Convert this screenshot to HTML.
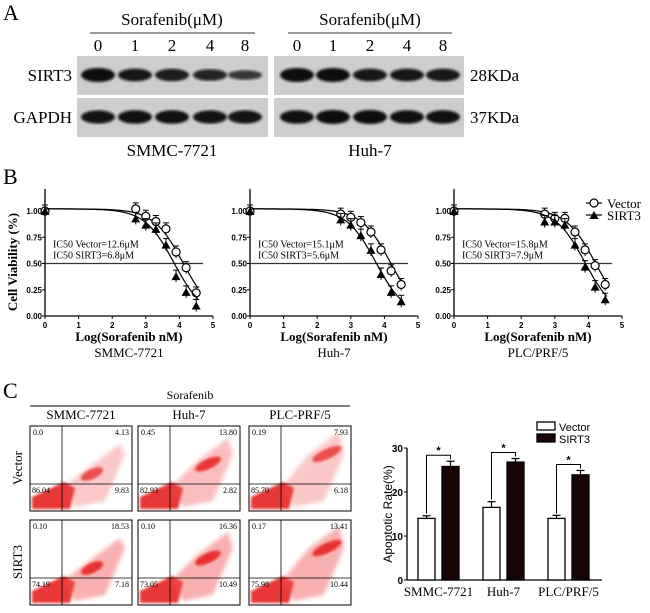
<!DOCTYPE html>
<html><head><meta charset="utf-8"><style>
html,body{margin:0;padding:0;background:#fff;width:650px;height:613px;overflow:hidden}
svg{display:block}
.serif{font-family:"Liberation Serif",serif}
.sansb{font-family:"Liberation Sans",sans-serif;font-weight:bold}
</style></head><body>
<svg id="fig" width="650" height="613" viewBox="0 0 650 613" xmlns="http://www.w3.org/2000/svg">
<defs>
<filter id="blur1"><feGaussianBlur stdDeviation="1.4"/></filter>
<filter id="blur2"><feGaussianBlur stdDeviation="2.2"/></filter>
</defs>
<!-- Panel A -->
<g id="panelA" font-family="Liberation Serif, serif">
<text x="3" y="20" font-size="22" font-family="Liberation Serif, serif">A</text>
<text x="172" y="25" font-size="17" text-anchor="middle" font-family="Liberation Serif, serif">Sorafenib(μM)</text>
<line x1="90" y1="33" x2="255" y2="33" stroke="#333" stroke-width="1"/>
<text x="370" y="25" font-size="17" text-anchor="middle" font-family="Liberation Serif, serif">Sorafenib(μM)</text>
<line x1="288" y1="33" x2="452" y2="33" stroke="#333" stroke-width="1"/>
<text x="72" y="81" font-size="17" text-anchor="end" font-family="Liberation Serif, serif">SIRT3</text>
<text x="72" y="123" font-size="17" text-anchor="end" font-family="Liberation Serif, serif">GAPDH</text>
<text x="470" y="81" font-size="17" font-family="Liberation Serif, serif">28KDa</text>
<text x="470" y="123" font-size="17" font-family="Liberation Serif, serif">37KDa</text>
<text x="172" y="156" font-size="17" text-anchor="middle" font-family="Liberation Serif, serif">SMMC-7721</text>
<text x="370" y="156" font-size="17" text-anchor="middle" font-family="Liberation Serif, serif">Huh-7</text>
<g id="blots"></g>
</g>
<!-- Panel B -->
<g id="panelB">
<text x="3" y="184" font-size="22" font-family="Liberation Serif, serif">B</text>
<text transform="translate(17,262) rotate(-90)" font-size="13" text-anchor="middle" font-family="Liberation Serif, serif" font-weight="bold">Cell Viability (%)</text>
<g id="curves"></g>
<g>
<line x1="586" y1="203" x2="602" y2="203" stroke="#000" stroke-width="1.2"/>
<circle cx="594" cy="203" r="4" fill="#fff" stroke="#000" stroke-width="1.2"/>
<text x="607" y="208" font-size="13" font-family="Liberation Serif, serif">Vector</text>
<line x1="586" y1="215" x2="602" y2="215" stroke="#000" stroke-width="1.2"/>
<polygon points="594,211 598.5,219 589.5,219" fill="#000"/>
<text x="607" y="220" font-size="13" font-family="Liberation Serif, serif">SIRT3</text>
</g>
</g>
<!-- Panel C -->
<g id="panelC">
<text x="3" y="398" font-size="22" font-family="Liberation Serif, serif">C</text>
<text x="190" y="399" font-size="12" text-anchor="middle" font-family="Liberation Serif, serif">Sorafenib</text>
<line x1="30" y1="406" x2="350" y2="406" stroke="#000" stroke-width="1"/>
<text transform="translate(22,468) rotate(-90)" font-size="13" text-anchor="middle" font-family="Liberation Serif, serif">Vector</text>
<text transform="translate(22,562) rotate(-90)" font-size="13" text-anchor="middle" font-family="Liberation Serif, serif">SIRT3</text>
<g id="flow"></g>
<text transform="translate(392,514) rotate(-90)" font-size="12" text-anchor="middle" font-family="Liberation Sans, sans-serif">Apoptotic Rate(%)</text>
<g id="bars"></g>
</g>
</svg>
<script>
// ---------- Panel A data ----------
const blotDoses = ["0","1","2","4","8"];
const smmcSirt3 = [1.0, 0.85, 0.8, 0.7, 0.45];
const smmcGapdh = [0.9, 0.95, 0.95, 0.9, 0.9];
const huhSirt3 = [1.0, 1.0, 0.85, 0.85, 0.85];
const huhGapdh = [0.95, 1.0, 1.0, 0.95, 0.95];
// ---------- Panel B data ----------
const logDose = [0, 2.7, 3.0, 3.3, 3.6, 3.9, 4.2, 4.5];
const cellNames = ["SMMC-7721", "Huh-7", "PLC/PRF/5"];
const vectorVals = [
  [1.0, 1.02, 0.95, 0.90, 0.83, 0.61, 0.46, 0.22],
  [1.0, 0.97, 0.94, 0.89, 0.80, 0.63, 0.43, 0.30],
  [1.0, 0.97, 0.93, 0.93, 0.80, 0.63, 0.48, 0.30]
];
const sirt3Vals = [
  [1.0, 0.93, 0.87, 0.83, 0.68, 0.38, 0.23, 0.10],
  [1.0, 0.92, 0.87, 0.77, 0.63, 0.40, 0.23, 0.14],
  [1.0, 0.90, 0.90, 0.87, 0.68, 0.47, 0.28, 0.16]
];
const ic50Vector = [12.6, 15.1, 15.8];
const ic50Sirt3 = [6.8, 5.6, 7.9];
const yTicksB = ["0.00","0.25","0.50","0.75","1.00"];
const xTicksB = [0,1,2,3,4,5];
// ---------- Panel C data ----------
const flowCells = ["SMMC-7721","Huh-7","PLC-PRF/5"];
const flowVectorQ = [["0.0","4.13","86.04","9.83"],["0.45","13.80","82.93","2.82"],["0.19","7.93","85.70","6.18"]];
const flowSirt3Q = [["0.10","18.53","74.19","7.18"],["0.10","16.36","73.05","10.49"],["0.17","13.41","75.98","10.44"]];
const barCategories = ["SMMC-7721","Huh-7","PLC/PRF/5"];
const barVector = [14.0, 16.5, 14.0];
const barSirt3 = [25.8, 26.8, 23.9];
const errVector = [0.6, 1.3, 0.7];
const errSirt3 = [1.2, 0.8, 1.0];
const yTicksC = [0,10,20,30];

const NS="http://www.w3.org/2000/svg";
const SERIF="Liberation Serif, serif";
function mk(tag, attrs, parent){const e=document.createElementNS(NS,tag);for(const k in attrs)e.setAttribute(k,attrs[k]);parent.appendChild(e);return e;}

// ---------- Panel A ----------
(function(){
  const g=document.getElementById('blots');
  const sets=[{x:77,w:191,lanes:[98,135,172,210,245],s:smmcSirt3,gp:smmcGapdh,n:'smmc'},{x:274,w:190,lanes:[297,333,370,407,443],s:huhSirt3,gp:huhGapdh,n:'huh7'}];
  sets.forEach(st=>{
    st.lanes.forEach((lx,i)=>{
      const t=mk('text',{x:lx,y:51,'font-size':17,'text-anchor':'middle','font-family':SERIF},document.getElementById('panelA'));
      t.textContent=blotDoses[i];
      
      
    });
    [[56,95,st.s,75],[98,137,st.gp,117]].forEach((r,ri)=>{
      const box=mk('rect',{x:st.x,y:r[0],width:st.w,height:r[1]-r[0],fill:'#cdcdcd'},g);
      
      
      st.lanes.forEach((lx,i)=>{
        const v=r[2][i];
        const b=mk('ellipse',{cx:lx,cy:r[3],rx:17,ry:3+4*v,fill:'#111',opacity:0.6+0.4*v,filter:'url(#blur1)'},g);
        
        
      });
    });
  });
})();

// ---------- Panel B ----------
(function(){
  const g=document.getElementById('curves');
  const x0s=[45,250,454], unit=33.6, yb=316, yh=105;
  x0s.forEach((x0,c)=>{
    const X=v=>x0+v*unit, Y=v=>yb-v*yh;
    const cg=mk('g',{},g);
    
    
    mk('line',{x1:x0,y1:189,x2:x0,y2:yb,stroke:'#000','stroke-width':1.3},cg);
    mk('line',{x1:x0,y1:yb,x2:X(5),y2:yb,stroke:'#000','stroke-width':1.3},cg);
    yTicksB.forEach(t=>{const v=+t;
      mk('line',{x1:x0-3,y1:Y(v),x2:x0,y2:Y(v),stroke:'#000'},cg);
      const tt=mk('text',{x:x0-3,y:Y(v)+3,'font-size':8,'text-anchor':'end','class':'sansb'},cg);tt.textContent=t;
      
      
    });
    xTicksB.forEach(v=>{
      mk('line',{x1:X(v),y1:yb,x2:X(v),y2:yb+3,stroke:'#000'},cg);
      const tt=mk('text',{x:X(v),y:yb+12,'font-size':8,'text-anchor':'middle','class':'sansb'},cg);tt.textContent=v;
      
      
    });
    mk('line',{x1:x0,y1:Y(0.5),x2:X(4.7),y2:Y(0.5),stroke:'#333','stroke-width':1.3},cg);
    const t1=mk('text',{x:x0+8,y:Y(0.5)-16,'font-size':10,'font-family':SERIF},cg);t1.textContent='IC50 Vector='+ic50Vector[c]+'μM';
    
    
    const t2=mk('text',{x:x0+8,y:Y(0.5)-5,'font-size':10,'font-family':SERIF},cg);t2.textContent='IC50 SIRT3='+ic50Sirt3[c]+'μM';
    
    
    const xl=mk('text',{x:X(2.5),y:341,'font-size':13,'text-anchor':'middle','font-family':SERIF,'font-weight':'bold'},cg);xl.textContent='Log(Sorafenib nM)';
    
    
    const cl=mk('text',{x:X(2.5),y:357,'font-size':13,'text-anchor':'middle','font-family':SERIF},cg);cl.textContent=cellNames[c];
    
    
    [[vectorVals[c],ic50Vector[c],'vector'],[sirt3Vals[c],ic50Sirt3[c],'sirt3']].forEach(s=>{
      const lic=Math.log10(s[1]*1000);
      let d='';
      for(let v=0;v<=4.55;v+=0.05){const y=1.02/(1+Math.pow(10,(v-lic)*1.0));d+=(d?'L':'M')+X(v).toFixed(1)+','+Y(y).toFixed(1);}
      const p=mk('path',{d:d,fill:'none',stroke:'#000','stroke-width':1.2},cg);
      
      
      s[0].forEach((v,i)=>{
        const px=X(logDose[i]),py=Y(v);
        mk('line',{x1:px,y1:py-6,x2:px,y2:py+6,stroke:'#000'},cg);
        mk('line',{x1:px-3,y1:py-6,x2:px+3,y2:py-6,stroke:'#000'},cg);
        let m;
        if(s[2]==='vector') m=mk('circle',{cx:px,cy:py,r:4,fill:'#fff',stroke:'#000','stroke-width':1.2},cg);
        else m=mk('polygon',{points:`${px},${py-4} ${px+4.5},${py+4} ${px-4.5},${py+4}`,fill:'#000'},cg);
        
        
      });
    });
  });
})();

// ---------- Panel C flow plots ----------
(function(){
  const g=document.getElementById('flow');
  const cols=[30,138,249], rows=[426,520], w=102, h=85;
  cols.forEach((cx,c)=>{
    const lab=mk('text',{x:cx+w/2,y:419,'font-size':13,'text-anchor':'middle','font-family':SERIF},g);lab.textContent=flowCells[c];
    
    
    rows.forEach((ry,r)=>{
      const q=r?flowSirt3Q[c]:flowVectorQ[c];
      const pg=mk('g',{},g);
      
      
      mk('rect',{x:cx,y:ry,width:w,height:h,fill:'#fff',stroke:'#000','stroke-width':1},pg);
      const vx=cx+32, hy=ry+58;
      const late=(parseFloat(q[1])+parseFloat(q[3]));
      mk('polygon',{points:`${cx+2},${ry+h-2} ${cx+2},${ry+h-14} ${cx+34},${hy-2} ${cx+45},${hy+4} ${cx+40},${ry+h-2}`,fill:'#e52020',opacity:0.9,filter:'url(#blur1)'},pg);
      mk('polygon',{points:`${cx+32},${hy+4} ${cx+60},${hy-18-c*6} ${cx+90},${hy-40-c*6} ${cx+95},${hy-30} ${cx+75},${ry+h-10} ${cx+45},${ry+h-4}`,fill:'#f05050',opacity:Math.min(0.45,late/45),filter:'url(#blur2)'},pg);
      mk('ellipse',{cx:cx+62+c*8,cy:hy-10-c*10,rx:12+c*2,ry:5,fill:'#e41a1a',opacity:Math.min(0.85,late/20),transform:`rotate(-25 ${cx+62+c*8} ${hy-10-c*10})`,filter:'url(#blur1)'},pg);
      mk('line',{x1:vx,y1:ry,x2:vx,y2:ry+h,stroke:'#000','stroke-width':0.8},pg);
      mk('line',{x1:cx,y1:hy,x2:cx+w,y2:hy,stroke:'#000','stroke-width':0.8},pg);
      [[cx+3,ry+9,'start',0],[cx+w-3,ry+9,'end',1],[cx+2,hy+9,'start',2],[cx+w-3,hy+9,'end',3]].forEach(a=>{
        const t=mk('text',{x:a[0],y:a[1],'font-size':8,'text-anchor':a[2],'font-family':SERIF},pg);t.textContent=q[a[3]];
        
        
      });
    });
  });
})();

// ---------- Panel C bar chart ----------
(function(){
  const g=document.getElementById('bars');
  const x0=407, y0=580, yTop=448, xEnd=602;
  const Y=v=>y0-(v/30)*(y0-yTop);
  const groupX=[418,483,548], bw=17, gap=7;
  mk('line',{x1:x0,y1:yTop,x2:x0,y2:y0,stroke:'#000','stroke-width':1.3},g);
  mk('line',{x1:x0,y1:y0,x2:xEnd,y2:y0,stroke:'#000','stroke-width':1.3},g);
  yTicksC.forEach(v=>{
    mk('line',{x1:x0-3,y1:Y(v),x2:x0,y2:Y(v),stroke:'#000'},g);
    const t=mk('text',{x:x0-4,y:Y(v)+4,'font-size':10,'text-anchor':'end','class':'sansb'},g);t.textContent=v;
    
    
  });
  barCategories.forEach((cat,i)=>{
    const gx=groupX[i];
    [[barVector[i],errVector[i],gx,'#fff','vector'],[barSirt3[i],errSirt3[i],gx+bw+gap,'#1a0505','sirt3']].forEach(b=>{
      const cxm=b[2]+bw/2;
      mk('line',{x1:cxm,y1:Y(b[0]+b[1]),x2:cxm,y2:Y(b[0]),stroke:'#000','stroke-width':1.2},g);
      mk('line',{x1:cxm-4,y1:Y(b[0]+b[1]),x2:cxm+4,y2:Y(b[0]+b[1]),stroke:'#000','stroke-width':1.2},g);
      const r=mk('rect',{x:b[2],y:Y(b[0]),width:bw,height:y0-Y(b[0]),fill:b[3],stroke:'#000','stroke-width':1.3},g);
      
      
    });
    const xa=gx+bw/2, xb=gx+bw+gap+bw/2;
    const top=Y(Math.max(barVector[i]+errVector[i],barSirt3[i]+errSirt3[i]))-6;
    mk('path',{d:`M${xa},${Y(barVector[i]+errVector[i])-2}V${top}H${xb}V${Y(barSirt3[i]+errSirt3[i])-2}`,fill:'none',stroke:'#000','stroke-width':1},g);
    const s=mk('text',{x:(xa+xb)/2,y:top-1,'font-size':11,'text-anchor':'middle','class':'sansb'},g);s.textContent='*';
    
    
    const l=mk('text',{x:(xa+xb)/2,y:596,'font-size':13,'text-anchor':'middle','font-family':SERIF},g);l.textContent=cat;
    
    
  });
  const lv=mk('rect',{x:537,y:422,width:18,height:8,fill:'#fff',stroke:'#000','stroke-width':1.3},g);
  
  
  const ls=mk('rect',{x:537,y:434,width:18,height:8,fill:'#1a0505',stroke:'#000','stroke-width':1.3},g);
  
  
  const t1=mk('text',{x:559,y:431,'font-size':11,'font-family':'Liberation Sans, sans-serif'},g);t1.textContent='Vector';
  
  
  const t2=mk('text',{x:559,y:443,'font-size':11,'font-family':'Liberation Sans, sans-serif'},g);t2.textContent='SIRT3';
  
  
})();
</script>
</body></html>
